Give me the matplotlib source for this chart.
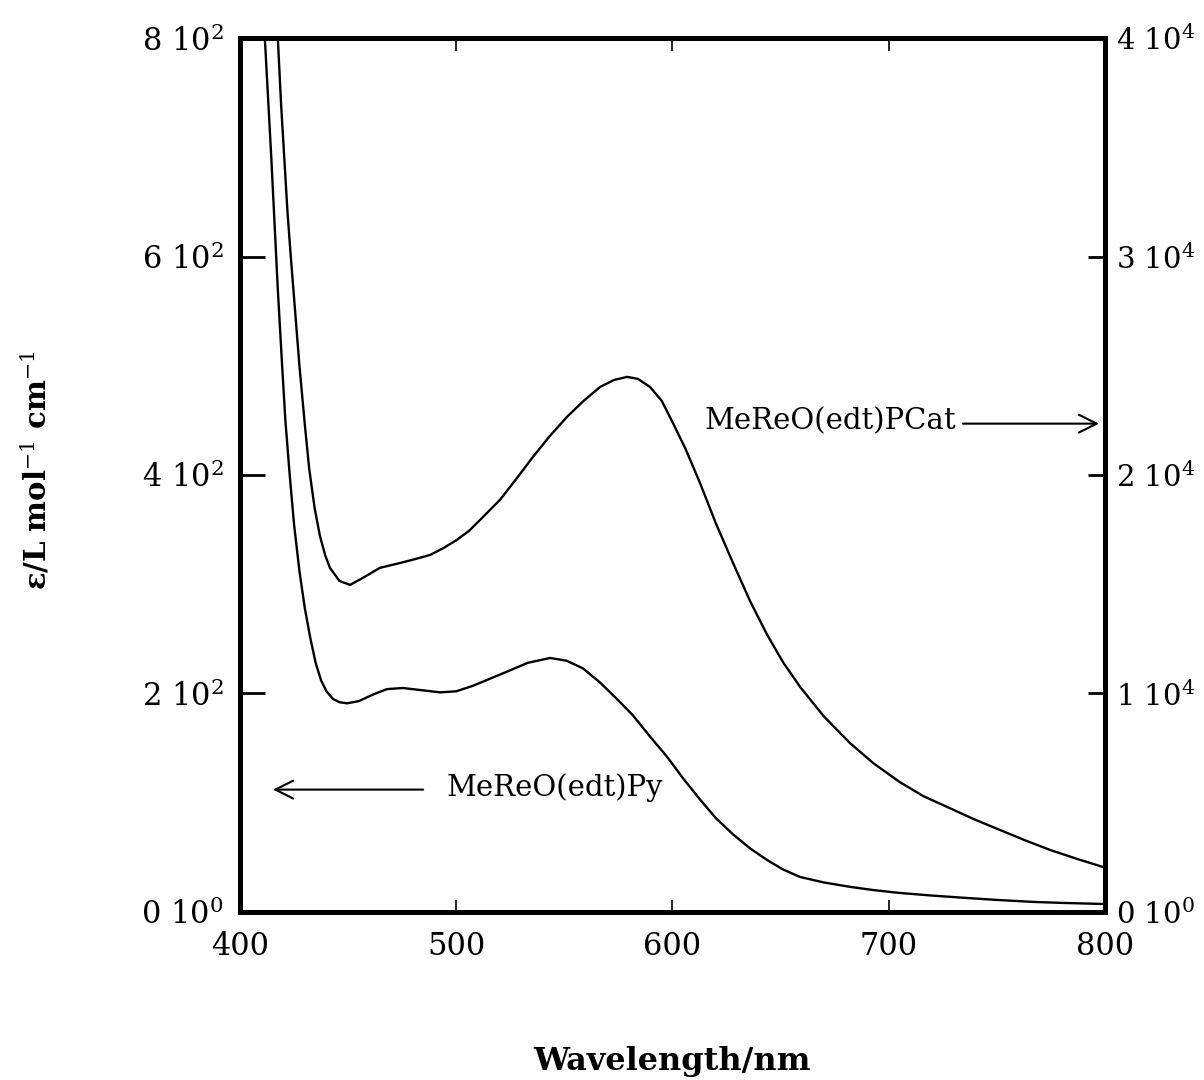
import numpy as np
import matplotlib
matplotlib.use('Agg')
import matplotlib.pyplot as plt

plt.rcParams['font.family'] = ['DejaVu Serif']
plt.rcParams['mathtext.fontset'] = 'dejavuserif'

# MeReO(edt)Py, left axis (L mol-1 cm-1)
py_nm = [411.5, 413, 414.5, 416, 417.5, 419.5, 421, 423, 425, 427.5, 430, 432.4,
         435, 437.5, 440, 443, 446, 449.5, 455, 461.5, 468, 475.4, 484, 492.5,
         500, 507.7, 515, 523.5, 533, 543.4, 551, 558.6, 566.5, 574.3, 581.7, 589,
         597.5, 605, 612.7, 620, 628, 636, 643.7, 651, 659, 670, 682, 693, 705,
         720, 736, 750, 766.7, 780, 799]
py_eps = [800, 745, 690, 630, 570, 500, 450, 400, 355, 312, 278, 252,
          228, 212, 202, 195, 192, 191, 193, 199, 204, 205, 203, 201,
          202, 207, 213, 220, 228, 232.5, 230, 223, 210, 195, 180, 162,
          142, 122, 103, 86, 71, 58, 47.6, 39, 32, 27, 23, 20, 17.4,
          15, 12.8, 11, 9.2, 8.3, 7.3]

# MeReO(edt)PCat, right axis
pc_nm = [417.5, 419, 420.5, 422, 423.5, 425.5, 427.5, 430, 432, 434.5, 437, 439.5,
         441.6, 446, 450.9, 457, 464.7, 474, 481, 487.9, 494, 500.3, 506, 511,
         520.2, 528, 535.5, 543, 551.2, 559, 566.5, 573, 579, 584, 589.6, 595,
         600.2, 606, 612.7, 620, 628, 636, 643.7, 651, 659, 670, 682, 693, 705,
         716, 728, 740, 751.4, 763, 774.6, 787, 799]
pc_eps = [40000, 37000, 34500, 32000, 30000, 27500, 25000, 22300, 20300, 18500, 17200, 16300,
          15750, 15150, 14970, 15300, 15750, 15970, 16150, 16340, 16650, 17030, 17450, 17940,
          18860, 19850, 20830, 21750, 22660, 23400, 24030, 24350, 24490, 24400, 24030, 23400,
          22380, 21200, 19640, 17800, 15970, 14200, 12700, 11450, 10300, 8950, 7735, 6800, 5950,
          5300, 4760, 4220, 3753, 3280, 2838, 2430, 2060]

left_ticks = [0, 200, 400, 600, 800]
left_labels = ['0 10$^0$', '2 10$^2$', '4 10$^2$', '6 10$^2$', '8 10$^2$']
right_ticks = [0, 10000, 20000, 30000, 40000]
right_labels = ['0 10$^0$', '1 10$^4$', '2 10$^4$', '3 10$^4$', '4 10$^4$']
x_ticks = [400, 500, 600, 700, 800]

fig = plt.figure(figsize=(12.04, 10.8), dpi=100)
ax = fig.add_axes([0.1993, 0.1556, 0.7185, 0.8092])
ax2 = ax.twinx()

ax.plot(py_nm, py_eps, color='black', lw=1.7)
ax2.plot(pc_nm, pc_eps, color='black', lw=1.7)

ax.set_xlim(400, 800)
ax.set_ylim(0, 800)
ax2.set_ylim(0, 40000)

for a in (ax, ax2):
    for s in a.spines.values():
        s.set_linewidth(3.5)

ax.set_xticks(x_ticks)
ax.set_xticklabels([str(v) for v in x_ticks], fontsize=22)
ax.tick_params(axis='x', direction='in', length=9, width=1.2, pad=14, top=True)
ax.set_yticks(left_ticks)
ax.set_yticklabels(left_labels, fontsize=22)
ax.tick_params(axis='y', direction='in', length=18, width=2, pad=12)
ax2.set_yticks(right_ticks)
ax2.set_yticklabels(right_labels, fontsize=21)
ax2.tick_params(axis='y', direction='in', length=12, width=2, pad=8)

ax.set_xlabel('Wavelength/nm', fontsize=23, fontweight='bold', labelpad=60)
fig.text(0.03, 0.565, 'ε/L mol$^{-1}$ cm$^{-1}$', rotation=90, fontsize=21,
         fontweight='bold', ha='center', va='center')

ax.annotate('', xy=(798.5, 447), xytext=(733, 447),
            arrowprops=dict(arrowstyle='->', lw=1.5, color='black', mutation_scale=32))
ax.text(731, 449, 'MeReO(edt)PCat', fontsize=21, ha='right', va='center')
ax.annotate('', xy=(414, 112), xytext=(486, 112),
            arrowprops=dict(arrowstyle='->', lw=1.5, color='black', mutation_scale=32))
ax.text(495.5, 114, 'MeReO(edt)Py', fontsize=21, ha='left', va='center')

fig.savefig('out.png', dpi=100)
